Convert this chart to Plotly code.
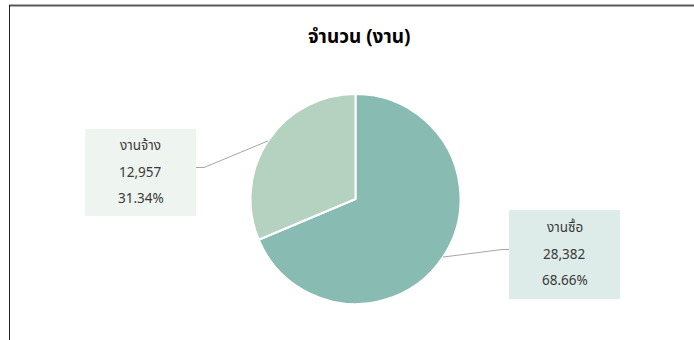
import math
import plotly.graph_objects as go

# Data
categories = ["งานซื้อ", "งานจ้าง"]
counts = [28382, 12957]
slice_colors = ["#88BBB2", "#B5D1C0"]
box_colors = ["#DDECE8", "#EEF4F0"]
title_text = "จำนวน (งาน)"

W, H = 694, 340
FONT = "Tahoma, 'Leelawadee UI', 'Noto Sans Thai', 'Noto Sans', sans-serif"

# Pie geometry (pixels)
cx, cy, r = 355.5, 199.0, 105.0


def px(x):
    return x / W


def py(y):
    return 1 - y / H


total = sum(counts)
shares = [c / total for c in counts]

fig = go.Figure()
fig.add_trace(go.Pie(
    labels=categories,
    values=counts,
    sort=False,
    direction="clockwise",
    rotation=0,
    textinfo="none",
    hoverinfo="label+value+percent",
    marker=dict(colors=slice_colors, line=dict(color="#FFFFFF", width=2)),
    domain=dict(x=[px(cx - r), px(cx + r)], y=[py(cy + r), py(cy - r)]),
    showlegend=False,
))

# Label box placement (pixel centers, box size) and elbow of the leader line
boxes = [
    dict(cx=564.5, cy=254.5, w=111, h=89, side="left", elbow=502),
    dict(cx=140.5, cy=172.5, w=111, h=87, side="right", elbow=204),
]

shapes = []
annotations = []
start = 0.0
for i, (name, val, share) in enumerate(zip(categories, counts, shares)):
    mid = (start + share / 2) * 2 * math.pi
    start += share
    ex = cx + r * math.sin(mid)
    ey = cy - r * math.cos(mid)
    b = boxes[i]
    x0, x1 = b["cx"] - b["w"] / 2, b["cx"] + b["w"] / 2
    y0, y1 = b["cy"] - b["h"] / 2, b["cy"] + b["h"] / 2
    shapes.append(dict(type="rect", xref="paper", yref="paper",
                       x0=px(x0), x1=px(x1), y0=py(y1), y1=py(y0),
                       fillcolor=box_colors[i], line=dict(width=0), layer="below"))
    attach_x = x0 if b["side"] == "left" else x1
    path = "M {:.5f} {:.5f} L {:.5f} {:.5f} L {:.5f} {:.5f}".format(
        px(ex), py(ey), px(b["elbow"]), py(b["cy"] - 5), px(attach_x), py(b["cy"] - 5))
    shapes.append(dict(type="path", xref="paper", yref="paper", path=path,
                       line=dict(color="#A6A6A6", width=1)))
    lines = [name, f"{val:,}", f"{share * 100:.2f}%"]
    for k, t in enumerate(lines):
        annotations.append(dict(
            x=px(b["cx"]), y=py(b["cy"] - 26.5 + 26.5 * k), xref="paper", yref="paper",
            text=t, showarrow=False, xanchor="center", yanchor="middle",
            font=dict(family=FONT, size=13.5, color="#3A3A3A"),
        ))

# Chart frame edges
shapes.append(dict(type="line", xref="paper", yref="paper",
                   x0=px(9), x1=1.01, y0=py(5.5), y1=py(5.5),
                   line=dict(color="#595959", width=2)))
shapes.append(dict(type="line", xref="paper", yref="paper",
                   x0=px(9.5), x1=px(9.5), y0=-0.01, y1=py(5),
                   line=dict(color="#202020", width=1)))

annotations.append(dict(
    x=px(359), y=py(37), xref="paper", yref="paper",
    text="<b>" + title_text + "</b>", showarrow=False,
    xanchor="center", yanchor="middle",
    font=dict(family=FONT, size=19, color="#000000"),
))

fig.update_layout(
    width=W, height=H,
    margin=dict(l=0, r=0, t=0, b=0),
    paper_bgcolor="#FFFFFF",
    plot_bgcolor="#FFFFFF",
    shapes=shapes,
    annotations=annotations,
)

fig.write_html("out.html")
